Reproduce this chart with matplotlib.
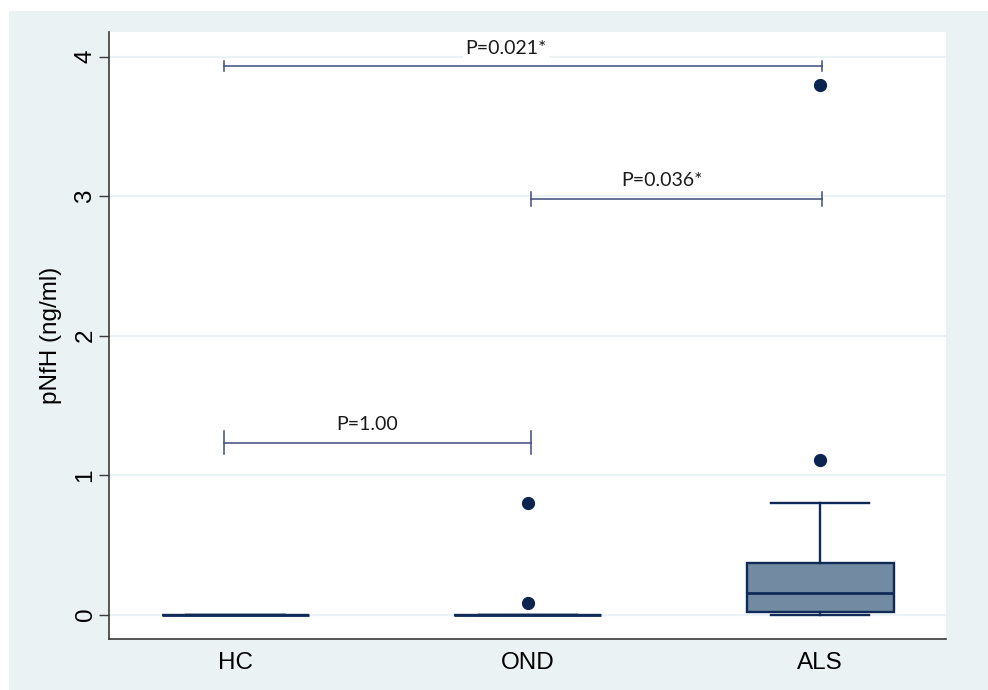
import matplotlib.pyplot as plt
from matplotlib.patches import Rectangle

plt.rcParams['font.family'] = ['Liberation Sans', 'DejaVu Sans']

# groups and box statistics (ng/ml)
groups = ['HC', 'OND', 'ALS']
q1 = [0.0, 0.0, 0.02]
median = [0.0, 0.0, 0.158]
q3 = [0.0, 0.0, 0.37]
whis_lo = [0.0, 0.0, 0.0]
whis_hi = [0.0, 0.0, 0.80]
outliers = [[], [0.083, 0.80], [1.109, 3.80]]

# comparison brackets
br_labels = ['P=0.021*', 'P=0.036*', 'P=1.00']
br_x0 = [0.96, 2.01, 0.96]
br_x1 = [3.007, 3.007, 2.01]
br_y = [3.93, 2.98, 1.233]
br_tick = [0.036, 0.05, 0.08]
txt_x = [1.925, 2.46, 1.45]
txt_y = [4.06, 3.11, 1.36]

bg = '#EAF2F3'
navy = '#102B57'

fig = plt.figure(figsize=(9.88, 6.90), dpi=100, facecolor='white')
fig.add_artist(Rectangle((9 / 988, 0), 1, 1 - 11 / 690, transform=fig.transFigure,
                         facecolor=bg, edgecolor='none', zorder=-10))
ax = fig.add_axes([109 / 988, 1 - 638.5 / 690, (946 - 109) / 988, (638.5 - 32) / 690])
ax.set_facecolor('white')

stats = []
for i, g in enumerate(groups):
    stats.append(dict(label=g, q1=q1[i], med=median[i], q3=q3[i],
                      whislo=whis_lo[i], whishi=whis_hi[i], fliers=outliers[i]))

ax.bxp(stats, positions=[1, 2, 3], widths=0.503, capwidths=0.336, patch_artist=True,
       boxprops=dict(facecolor='#728BA2', edgecolor=navy, linewidth=1.7),
       medianprops=dict(color=navy, linewidth=2.0),
       whiskerprops=dict(color=navy, linewidth=1.7),
       capprops=dict(color=navy, linewidth=1.7),
       flierprops=dict(marker='o', markerfacecolor='#0B2450', markeredgecolor='#0B2450',
                       markersize=8.5),
       zorder=3)

for i in range(len(br_labels)):
    ax.plot([br_x0[i], br_x1[i]], [br_y[i], br_y[i]], color='#3F4C7E', lw=1.1, zorder=4)
    for xx in (br_x0[i], br_x1[i]):
        ax.plot([xx, xx], [br_y[i] - br_tick[i], br_y[i] + br_tick[i]],
                color='#3F4C7E', lw=1.1, zorder=4)
    ax.text(txt_x[i], txt_y[i], br_labels[i], ha='center', va='center', fontsize=14,
            family='Lato', color='#1a1a1a', zorder=5,
            bbox=dict(facecolor='white', edgecolor='none', pad=2))

ax.set_xlim(0.567, 3.43)
ax.set_ylim(-0.171, 4.177)
ax.set_yticks([0, 1, 2, 3, 4])
ax.set_yticklabels(['0', '1', '2', '3', '4'], rotation=90, va='center')
ax.grid(axis='y', color=bg, lw=1.6, zorder=0)
ax.set_axisbelow(True)
for s in ('top', 'right'):
    ax.spines[s].set_visible(False)
for s in ('left', 'bottom'):
    ax.spines[s].set_color('#3a3a3a')
    ax.spines[s].set_linewidth(1.2)
ax.tick_params(axis='y', length=7, width=1.0, color='#3a3a3a', pad=2, labelsize=17.5)
ax.tick_params(axis='x', length=0, pad=10, labelsize=17.5)
ax.set_ylabel('pNfH (ng/ml)', fontsize=17.5, labelpad=9)

fig.savefig('out.png', dpi=100, facecolor=fig.get_facecolor())
